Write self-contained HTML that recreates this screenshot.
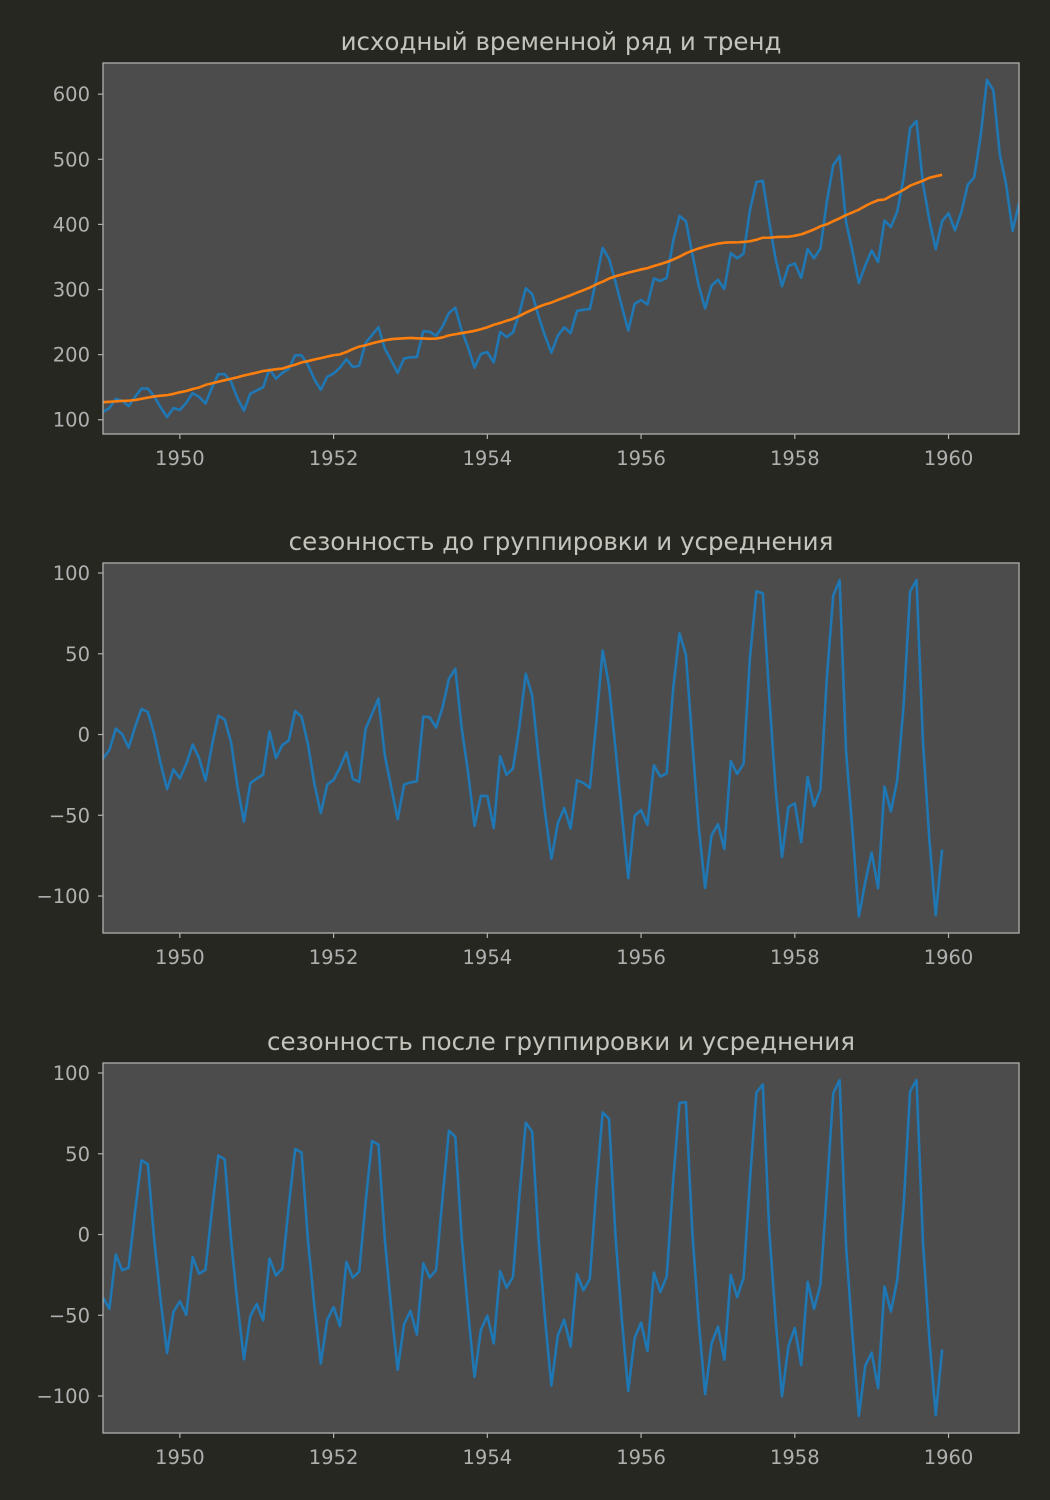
<!DOCTYPE html>
<html><head><meta charset="utf-8"><style>
html,body{margin:0;padding:0;background:#272722;}
svg{display:block;font-family:"DejaVu Sans","Liberation Sans",sans-serif;}
</style></head><body>
<svg id="fig" width="1050" height="1500" viewBox="0 0 1050 1500" xmlns="http://www.w3.org/2000/svg">
<rect x="0" y="0" width="1050" height="1500" fill="#272722"/>
</svg>
<script>
// Monthly airline passengers, Jan 1949 – Dec 1960
const passengers = [
112,118,132,129,121,135,148,148,136,119,104,118,
115,126,141,135,125,149,170,170,158,133,114,140,
145,150,178,163,172,178,199,199,184,162,146,166,
171,180,193,181,183,218,230,242,209,191,172,194,
196,196,236,235,229,243,264,272,237,211,180,201,
204,188,235,227,234,264,302,293,259,229,203,229,
242,233,267,269,270,315,364,347,312,274,237,278,
284,277,317,313,318,374,413,405,355,306,271,306,
315,301,356,348,355,422,465,467,404,347,305,336,
340,318,362,348,363,435,491,505,404,359,310,337,
360,342,406,396,420,472,548,559,463,407,362,405,
417,391,419,461,472,535,622,606,508,461,390,432];
const startYear = 1949;
const xTicks = [1950,1952,1954,1956,1958,1960];
const yTicks1 = [100,200,300,400,500,600];
const yTicks2 = [-100,-50,0,50,100];
const titles = ["исходный временной ряд и тренд","сезонность до группировки и усреднения","сезонность после группировки и усреднения"];

// derived series: 12-month rolling mean, detrended series, per-month backward average
const trend = [];
for (let i = 0; i + 13 <= passengers.length; i++) {
  let s = 0; for (let k = 1; k <= 12; k++) s += passengers[i + k];
  trend.push(s / 12);
}
const seasonRaw = trend.map((t, i) => passengers[i] - t);
const seasonAvg = seasonRaw.map((v, i) => {
  let s = 0, n = 0;
  for (let j = i; j < seasonRaw.length; j += 12) { s += seasonRaw[j]; n++; }
  return s / n;
});

const NS = "http://www.w3.org/2000/svg";
const svg = document.getElementById("fig");
function mk(tag, attrs, parent) {
  const e = document.createElementNS(NS, tag);
  for (const k in attrs) e.setAttribute(k, attrs[k]);
  (parent || svg).appendChild(e);
  return e;
}
const X0 = 103, X1 = 1019;
const xmin = startYear, xmax = startYear + (passengers.length - 1) / 12;
const xs = t => X0 + (t - xmin) / (xmax - xmin) * (X1 - X0);

const panels = [
  {top: 63, bot: 434, ymin: 78.1, ymax: 647.9, ticks: yTicks1, series: [[passengers, "#1f77b4", "passengers-line"], [trend, "#ff7f0e", "trend-line"]]},
  {top: 563, bot: 933, ymin: -122.9, ymax: 106.2, ticks: yTicks2, series: [[seasonRaw, "#1f77b4", "seasonality-raw-line"]]},
  {top: 1063, bot: 1433, ymin: -122.9, ymax: 106.2, ticks: yTicks2, series: [[seasonAvg, "#1f77b4", "seasonality-avg-line"]]}
];

panels.forEach((p, pi) => {
  const g = mk("g", {});
  
  
  const ys = v => p.bot - (v - p.ymin) / (p.ymax - p.ymin) * (p.bot - p.top);
  const bg = mk("rect", {x: X0, y: p.top, width: X1 - X0, height: p.bot - p.top, fill: "#4c4c4c"}, g);
  
  
  const clipId = "clip" + pi;
  const cp = mk("clipPath", {id: clipId}, g);
  mk("rect", {x: X0, y: p.top, width: X1 - X0, height: p.bot - p.top}, cp);
  p.series.forEach(([arr, col, name]) => {
    const d = arr.map((v, i) => (i ? "L" : "M") + xs(startYear + i / 12).toFixed(2) + "," + ys(v).toFixed(2)).join(" ");
    const path = mk("path", {d: d, fill: "none", stroke: col, "stroke-width": 2.6, "stroke-linejoin": "round", "clip-path": "url(#" + clipId + ")"}, g);
    
    
  });
  const fr = mk("rect", {x: X0, y: p.top, width: X1 - X0, height: p.bot - p.top, fill: "none", stroke: "#b0b0b0", "stroke-width": 1.3}, g);
  
  
  xTicks.forEach(t => {
    const x = xs(t);
    mk("line", {x1: x, x2: x, y1: p.bot, y2: p.bot + 5, stroke: "#b0b0b0", "stroke-width": 1.2}, g);
    const tx = mk("text", {x: x, y: p.bot + 31, "text-anchor": "middle", "font-size": 19.5, fill: "#b0b0b0"}, g);
    tx.textContent = t;
    
    
  });
  p.ticks.forEach(t => {
    const y = ys(t);
    mk("line", {x1: X0 - 5, x2: X0, y1: y, y2: y, stroke: "#b0b0b0", "stroke-width": 1.2}, g);
    const ty = mk("text", {x: X0 - 13, y: y + 7, "text-anchor": "end", "font-size": 19.5, fill: "#b0b0b0"}, g);
    ty.textContent = t < 0 ? "\u2212" + (-t) : String(t);
    
    
  });
  const tt = mk("text", {x: (X0 + X1) / 2, y: p.top - 13, "text-anchor": "middle", "font-size": 24.5, fill: "#c4c4bc"}, g);
  tt.textContent = titles[pi];
  
  
});
</script>
</body></html>
